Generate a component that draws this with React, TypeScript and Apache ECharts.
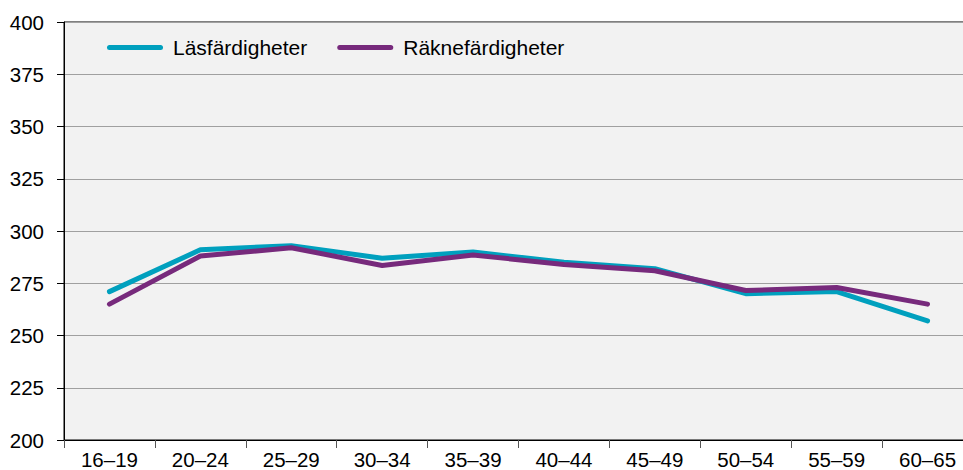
import React, { useEffect, useRef } from "react";
import * as echarts from "echarts";

const categories = ["16–19", "20–24", "25–29", "30–34", "35–39", "40–44", "45–49", "50–54", "55–59", "60–65"];
const lasValues = [271, 291, 293, 287, 290, 285, 282, 270, 271, 257];
const raknaValues = [265, 288, 292, 283.5, 288.5, 284, 281, 271.5, 273, 265];
const seriesNames = ["Läsfärdigheter", "Räknefärdigheter"];

const FONT = "'Liberation Sans', Arial, sans-serif";

export default function App() {
  const ref = useRef<HTMLDivElement>(null);
  useEffect(() => {
    if (!ref.current) return;
    const chart = echarts.init(ref.current, null, { renderer: "svg" });
    const legendIcon = "path://M2.5,0 H53.5 A2.5,2.5 0 0 1 53.5,5 H2.5 A2.5,2.5 0 0 1 2.5,0 Z";
    chart.setOption({
      animation: false,
      backgroundColor: "#ffffff",
      grid: {
        left: 64,
        top: 22,
        bottom: 26,
        right: 0,
        show: true,
        backgroundColor: "#f2f2f2",
        borderColor: "#000000",
        borderWidth: 1,
      },
      legend: {
        left: 102,
        top: 32,
        itemWidth: 56,
        itemHeight: 5,
        itemGap: 30,
        icon: legendIcon,
        textStyle: { fontFamily: FONT, fontSize: 21, color: "#000", padding: [0, 0, 0, 5] },
        data: seriesNames,
      },
      xAxis: {
        type: "category",
        data: categories,
        boundaryGap: true,
        axisLine: { show: true, lineStyle: { color: "#000", width: 1 } },
        axisTick: { show: true, length: 8, lineStyle: { color: "#555" }, alignWithLabel: false },
        axisLabel: { fontFamily: FONT, fontSize: 20.5, color: "#000", margin: 9 },
        splitLine: { show: false },
      },
      yAxis: {
        type: "value",
        min: 200,
        max: 400,
        interval: 25,
        axisLine: { show: true, lineStyle: { color: "#000", width: 1 } },
        axisTick: { show: true, length: 7, lineStyle: { color: "#000" } },
        axisLabel: { fontFamily: FONT, fontSize: 20.5, color: "#000", margin: 20 },
        splitLine: { show: true, lineStyle: { color: "#a0a0a0", width: 1 } },
      },
      series: [
        {
          name: seriesNames[0],
          type: "line",
          data: lasValues,
          symbol: "none",
          lineStyle: { color: "#00a0be", width: 5, cap: "round", join: "round" },
          itemStyle: { color: "#00a0be" },
        },
        {
          name: seriesNames[1],
          type: "line",
          data: raknaValues,
          symbol: "none",
          lineStyle: { color: "#772a7c", width: 5, cap: "round", join: "round" },
          itemStyle: { color: "#772a7c" },
        },
      ],
    });
    return () => chart.dispose();
  }, []);
  return (
    <div style={{ position: "absolute", left: 0, top: 0, width: 963, height: 470, overflow: "hidden" }}>
      <div ref={ref} style={{ position: "absolute", left: 0, top: 0, width: 973, height: 470 }} />
    </div>
  );
}
